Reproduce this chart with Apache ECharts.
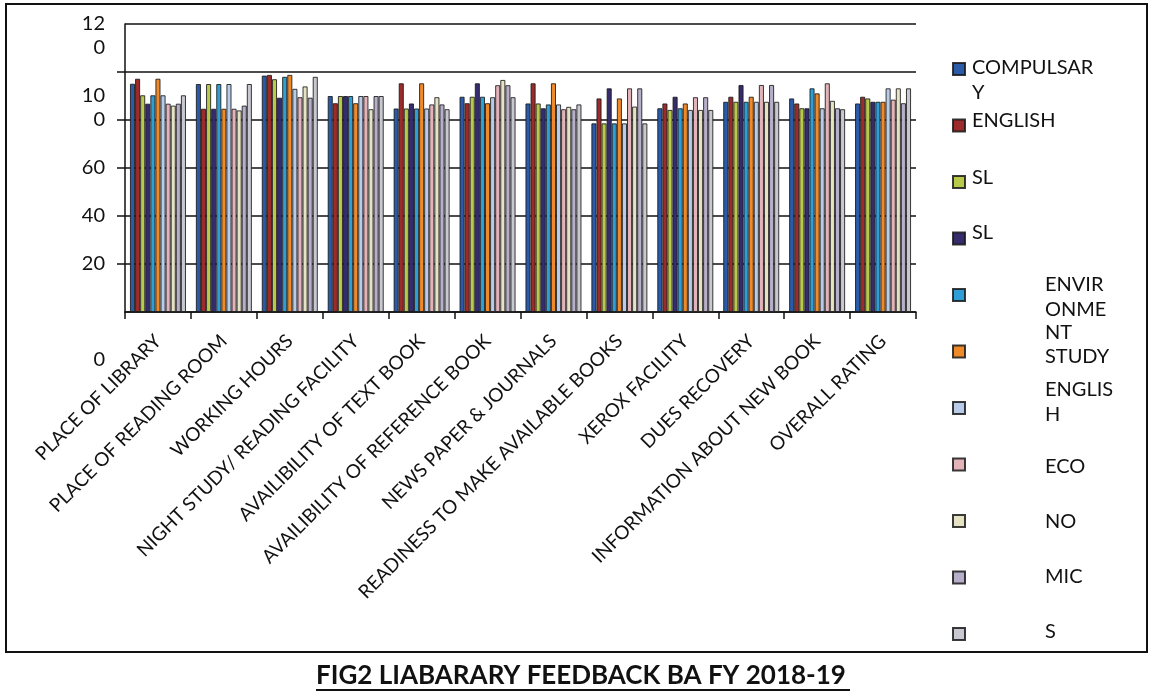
<!DOCTYPE html>
<html>
<head>
<meta charset="utf-8">
<script src="https://cdn.jsdelivr.net/npm/echarts@6/dist/echarts.min.js"></script>
<style>html,body{margin:0;padding:0;background:#fff;}#c{width:1152px;height:698px;}</style>
</head>
<body>
<div id="c"></div>
<script>
const categories = ["PLACE OF LIBRARY", "PLACE OF READING ROOM", "WORKING HOURS", "NIGHT STUDY/ READING FACILITY", "AVAILIBILITY OF TEXT BOOK", "AVAILIBILITY OF REFERENCE BOOK", "NEWS PAPER & JOURNALS", "READINESS TO MAKE AVAILABLE BOOKS", "XEROX FACILITY", "DUES RECOVERY", "INFORMATION ABOUT NEW BOOK", "OVERALL RATING"];
const seriesNames = ["COMPULSARY", "ENGLISH", "SL", "SL ", "ENVIRONMENT", "STUDY", "ENGLISH ", "ECO", "NO", "MIC", "S"];
const compulsary = [95.1, 95, 98.5, 90, 84.8, 89.7, 86.9, 78.6, 84.9, 87.6, 89, 86.9];
const english = [97.2, 84.7, 98.8, 87, 95.3, 87, 95.3, 89, 86.9, 89.7, 86.9, 89.7];
const sl1 = [90.3, 95, 97, 90, 84.8, 89.7, 86.9, 78.6, 84.2, 87.6, 84.9, 89];
const sl2 = [86.8, 84.7, 89.3, 90, 86.9, 95.3, 84.9, 93.2, 89.7, 94.6, 84.9, 87.6];
const environment = [90.3, 95, 98, 90, 84.8, 89.7, 86.5, 78.6, 84.9, 87.6, 93.2, 87.6];
const study = [97.2, 84.7, 98.8, 87, 95.3, 87, 95.3, 89, 86.9, 89.7, 91.1, 87.6];
const english2 = [90.3, 95, 93, 90, 84.8, 89.5, 86.5, 78.6, 84.2, 87.6, 84.9, 93.2];
const eco = [86.8, 84.7, 89.5, 90, 86.5, 94.5, 84.5, 93.2, 89.5, 94.6, 95.3, 88.5];
const no = [86, 84, 94, 84.5, 89.5, 96.7, 85.5, 85.6, 84.2, 87.6, 88, 93.2];
const mic = [86.8, 86, 89.3, 90, 86.5, 94.5, 84.5, 93.2, 89.5, 94.6, 84.9, 87];
const s = [90.3, 95, 98, 90, 84.5, 89.5, 86.5, 78.6, 84.2, 87.6, 84.5, 93.2];
const allValues = [compulsary, english, sl1, sl2, environment, study, english2, eco, no, mic, s];
const colors = ["#2a5aa8", "#9c2b2b", "#b9c94a", "#352c6e", "#2e9fd6", "#ef8a2a", "#b8cbe8", "#e3b3ba", "#e6e2c4", "#b7afc9", "#c8c8d0"];
// tick labels as printed (wrapped / shifted in the original)
const yTickLabelsMain = {100: "\n\n\n10\n0", 60: "60", 40: "40", 20: "20"};
const yTickLabelsEnds = {120: "\n12\n0", 0: "\n\n\n\n0"};
const legendLines = [
  ["COMPULSAR", 972, 68], ["Y", 972, 93], ["ENGLISH", 972, 121], ["SL", 972, 178], ["SL", 972, 233],
  ["ENVIR", 1045, 285], ["ONME", 1045, 310], ["NT", 1045, 333], ["STUDY", 1045, 357],
  ["ENGLIS", 1045, 390], ["H", 1045, 415], ["ECO", 1045, 467], ["NO", 1045, 522], ["MIC", 1045, 577], ["S", 1045, 632]
];
const titleText = "FIG2 LIABARARY FEEDBACK BA FY 2018-19";

const FONT = "Lato";
const chart = echarts.init(document.getElementById('c'), null, {renderer: 'canvas'});
const graphics = [
  {type: 'rect', shape: {x: 6, y: 4, width: 1141, height: 648}, style: {fill: 'none', stroke: '#111', lineWidth: 2}, z: 0},
  {type: 'line', shape: {x1: 316, y1: 690, x2: 850, y2: 690}, style: {stroke: '#111', lineWidth: 2}},
];
legendLines.forEach(l => graphics.push({
  type: 'text', x: l[1], y: l[2],
  style: {text: l[0], fill: '#111', font: '20px ' + FONT, textVerticalAlign: 'middle', textAlign: 'left'}
}));

const labelBase = {margin: 20, color: '#111', fontFamily: FONT, fontSize: 20, lineHeight: 24};

chart.setOption({
  backgroundColor: '#fff',
  animation: false,
  title: {text: titleText, left: 316, top: 663, padding: 0,
    textStyle: {fontFamily: FONT, fontWeight: 'bold', fontSize: 26, color: '#111'}},
  legend: {orient: 'vertical', left: 952, top: 62, padding: 0, itemWidth: 12, itemHeight: 12, itemGap: 42.5,
    icon: 'rect', formatter: () => '', data: seriesNames, selectedMode: false},
  grid: {left: 125, right: 236, top: 24, bottom: 386, containLabel: false, outerBoundsMode: 'none'},
  xAxis: {
    type: 'category', data: categories,
    axisLine: {lineStyle: {color: '#111', width: 1.5}},
    axisTick: {show: true, length: 7, lineStyle: {color: '#111', width: 1.5}},
    axisLabel: {interval: 0, rotate: 45, margin: 26, color: '#111', fontFamily: FONT, fontSize: 19}
  },
  yAxis: [{
    type: 'value', min: 0, max: 120, interval: 20, position: 'left',
    axisLine: {show: true, lineStyle: {color: '#111', width: 1.5}},
    axisTick: {show: true, length: 8, lineStyle: {color: '#111', width: 1.5}},
    splitLine: {show: true, lineStyle: {color: '#111', width: 1.5}},
    axisLabel: Object.assign({}, labelBase, {showMinLabel: false, showMaxLabel: false,
      formatter: v => yTickLabelsMain[v] || ''})
  }, {
    type: 'value', min: 0, max: 120, interval: 20, position: 'left', offset: 0,
    axisLine: {show: false}, axisTick: {show: false}, splitLine: {show: false},
    axisLabel: Object.assign({}, labelBase, {showMinLabel: true, showMaxLabel: true,
      formatter: v => yTickLabelsEnds[v] || ''})
  }],
  series: allValues.map((vals, i) => ({
    name: seriesNames[i], type: 'bar', data: vals, yAxisIndex: 0,
    barGap: '0%', barCategoryGap: '15%',
    itemStyle: {color: colors[i], borderColor: 'rgba(25,25,25,0.85)', borderWidth: 1}
  })),
  graphic: graphics
});
</script>
</body>
</html>
